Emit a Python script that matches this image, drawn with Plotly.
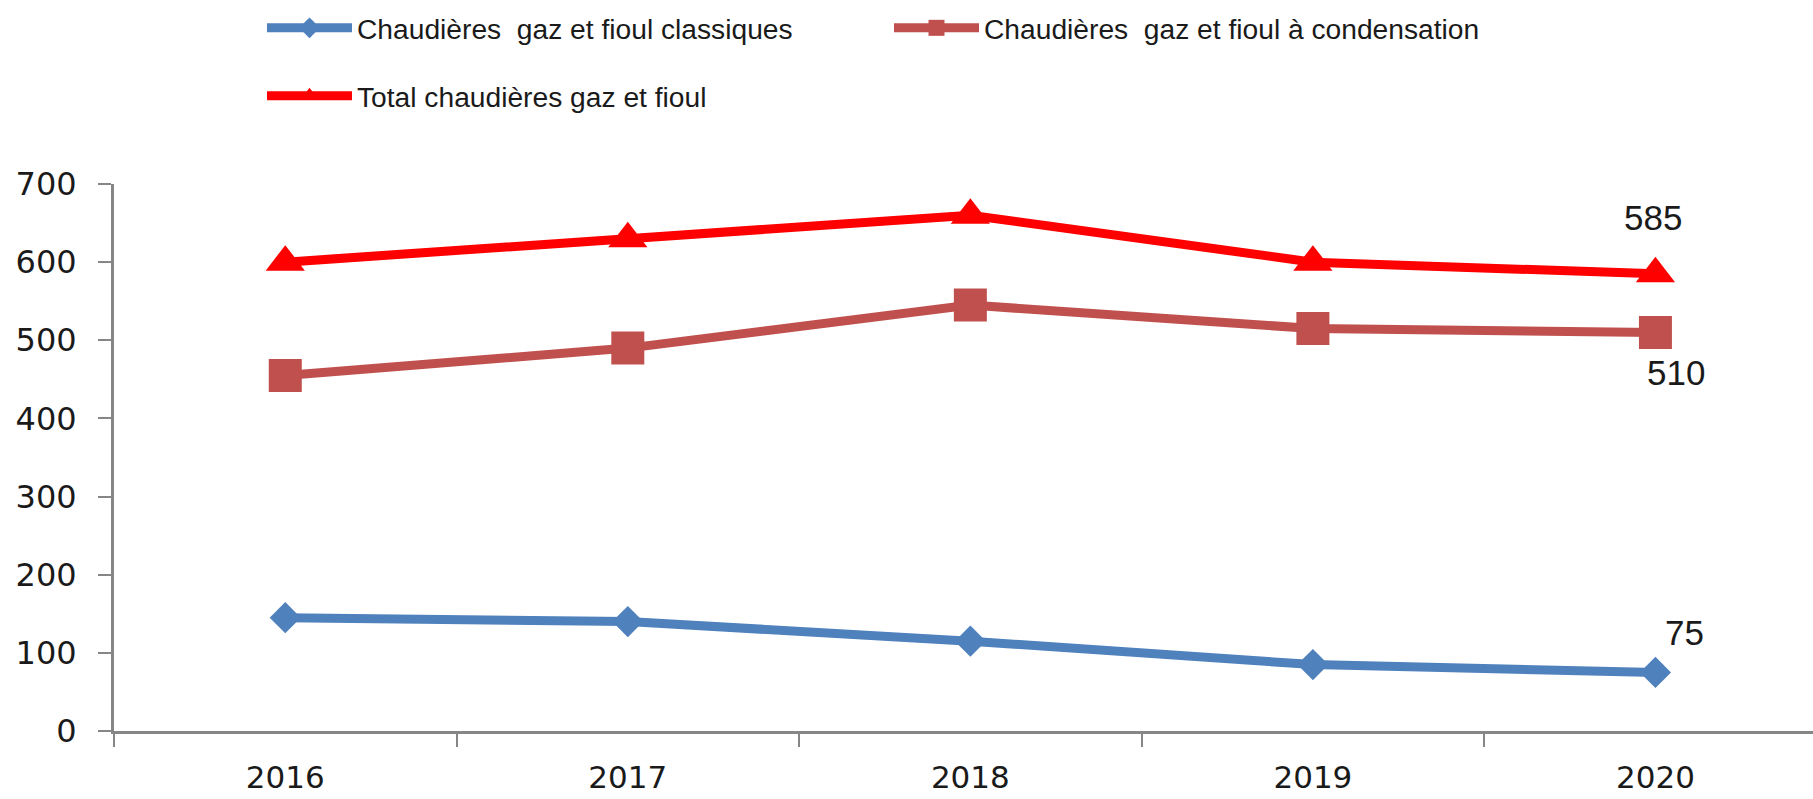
import plotly.graph_objects as go

years = ["2016", "2017", "2018", "2019", "2020"]
classiques = [145, 140, 115, 85, 75]
condensation = [455, 490, 545, 515, 510]
total = [600, 630, 660, 600, 585]

names = [
    "Chaudières  gaz et fioul classiques",
    "Chaudières  gaz et fioul à condensation",
    "Total chaudières gaz et fioul",
]
y_ticks = [0, 100, 200, 300, 400, 500, 600, 700]

AXIS = "#868686"
TXT = "#1a1a1a"

fig = go.Figure()
fig.add_trace(go.Scatter(
    x=years, y=classiques, name=names[0], mode="lines+markers",
    line=dict(color="#4F81BD", width=9),
    marker=dict(symbol="diamond", size=24, color="#4F81BD"),
    legend="legend",
))
fig.add_trace(go.Scatter(
    x=years, y=condensation, name=names[1], mode="lines+markers",
    line=dict(color="#C0504D", width=9),
    marker=dict(symbol="square", size=33, color="#C0504D"),
    legend="legend",
))
fig.add_trace(go.Scatter(
    x=years, y=total, name=names[2], mode="lines+markers",
    line=dict(color="#FF0000", width=9),
    marker=dict(symbol="triangle-up", size=34, color="#FF0000"),
    legend="legend2",
))

lab_font = dict(family="Liberation Sans", size=35, color=TXT)
last = len(years) - 1
annots = [
    (total[-1], -2, 56),
    (condensation[-1], 21, -40),
    (classiques[-1], 29, 40),
]
for val, dx, dy in annots:
    fig.add_annotation(x=last, y=val, xref="x", yref="y", text=str(val),
                       showarrow=False, font=lab_font, xshift=dx, yshift=dy)

leg_common = dict(
    orientation="h", xref="container", yref="container",
    xanchor="left", yanchor="middle",
    font=dict(family="Liberation Sans", size=28.2, color=TXT),
    itemwidth=85, bgcolor="rgba(0,0,0,0)", borderwidth=0,
    entrywidthmode="pixels", entrywidth=527, itemclick=False,
)
fig.update_layout(
    width=1813, height=799,
    paper_bgcolor="white", plot_bgcolor="white",
    margin=dict(l=114, r=0, t=184, b=68),
    showlegend=True,
    legend=dict(x=262 / 1813, y=(799 - 28) / 799, **leg_common),
    legend2=dict(x=262 / 1813, y=(799 - 96) / 799, **leg_common),
    xaxis=dict(
        type="category", range=[-0.5, 4.46],
        tickson="boundaries", ticks="outside", ticklen=13, tickwidth=2, tickcolor=AXIS,
        showline=True, linecolor=AXIS, linewidth=3, showgrid=False, zeroline=False,
        ticklabelstandoff=17,
        tickfont=dict(family="DejaVu Sans", size=31, color=TXT),
    ),
    yaxis=dict(
        range=[0, 700], tickvals=y_ticks, ticks="outside", ticklen=13, tickwidth=2,
        tickcolor=AXIS, showline=True, linecolor=AXIS, linewidth=3,
        showgrid=False, zeroline=False, ticklabelstandoff=15,
        tickfont=dict(family="DejaVu Sans", size=32, color=TXT),
    ),
)

fig.write_html("out.html", config={"displayModeBar": False},
               post_script="document.body.style.margin='0px';")
